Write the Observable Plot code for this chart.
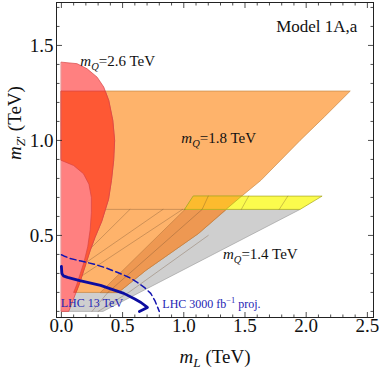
<!DOCTYPE html>
<html><head><meta charset="utf-8">
<script src="https://cdn.jsdelivr.net/npm/d3@7"></script>
<script src="https://cdn.jsdelivr.net/npm/@observablehq/plot@0.6"></script>
<style>body{margin:0;background:#fff}svg{display:block}</style>
</head><body><div id="chart"></div>
<script>
// ---- tick values ----
const xMajor = [0, 0.5, 1.0, 1.5, 2.0, 2.5];
const yMajor = [0.5, 1.0, 1.5];
const xMinor = d3.range(1, 25).map(i => i / 10).filter(v => !xMajor.some(m => Math.abs(m - v) < 1e-9));
const yMinor = d3.range(1, 18).map(i => i / 10).filter(v => !yMajor.some(m => Math.abs(m - v) < 1e-9));

// ---- region boundaries (m_L, m_Z') in TeV ----
// m_Q = 2.6 TeV region: right edge, from top (x=0) down to bottom
const redEdge = [[0,1.412],[0.128,1.404],[0.21,1.377],[0.292,1.333],[0.346,1.281],[0.387,1.21],[0.42,1.105],[0.435,1.0],[0.427,0.895],[0.409,0.79],[0.385,0.69],[0.33,0.575],[0.275,0.49],[0.235,0.42],[0.19,0.33],[0.15,0.25],[0.12,0.2],[0.06,0.1]];
const redBottomLeft = [[0,0.1]];
// m_Q = 1.8 TeV region
const orangeTop = [[0,1.26],[2.36,1.26]];
const orangeRightEdge = [[2.36,1.26],[2.15,1.125],[1.95,1.0],[1.63,0.79],[1.46,0.70],[1.34,0.632],[1.12,0.51],[0.69,0.316],[0.466,0.2]];
const orangeLeftEdge = [[0.10,0.2],[0.125,0.24],[0.155,0.30],[0.185,0.36],[0.215,0.44],[0.235,0.53],[0.245,0.62],[0.245,0.70],[0.225,0.77],[0.18,0.825],[0.1,0.868],[0,0.895]];
// m_Q = 1.4 TeV region
const grayRegion = [[0,0.1],[0.34,0.1],[1.95,0.637],[1.01,0.637],[0.319,0.2],[0.05,0.2]];
const overlapBand = [[0.319,0.2],[1.01,0.637],[1.345,0.637],[1.12,0.51],[0.69,0.316],[0.466,0.2]];
const yellowBand = [[1.01,0.637],[1.95,0.637],[2.13,0.707],[1.08,0.707]];
const yellowOverlap = [[1.01,0.637],[1.345,0.637],[1.473,0.707],[1.08,0.707]];
// mesh lines
const meshLines = [
  [[0.26,0.637],[1.01,0.637]],
  [[0.22,0.42],[0.56,0.637]],
  [[0.185,0.35],[0.83,0.637]],
  [[0.15,0.28],[0.99,0.637]],
  [[0.25,0.1],[0.38,0.2],[1.15,0.637],[1.20,0.707]],
  [[0.30,0.1],[0.55,0.2],[1.2,0.5]],
  [[1.47,0.637],[1.53,0.707]],
  [[1.78,0.637],[1.85,0.707]]
];
// LHC bounds
const lhc13 = [[0,0.337],[0.004,0.30],[0.016,0.287],[0.05,0.279],[0.15,0.262],[0.32,0.237],[0.42,0.215],[0.51,0.195],[0.6,0.165],[0.65,0.147],[0.703,0.121],[0.637,0.1]];
const lhc3000 = [[0,0.398],[0.02,0.392],[0.07,0.379],[0.16,0.365],[0.26,0.35],[0.36,0.33],[0.46,0.305],[0.55,0.28],[0.62,0.253],[0.68,0.225],[0.73,0.195],[0.765,0.155],[0.79,0.116],[0.80,0.1]];

// labels
const labels = [
  {x:0.155, y:1.417, text:"*m*_{*Q*}=2.6 TeV", size:15, color:"#111", anchor:"start"},
  {x:0.98, y:1.01, text:"*m*_{*Q*}=1.8 TeV", size:15, color:"#111", anchor:"start"},
  {x:1.32, y:0.40, text:"*m*_{*Q*}=1.4 TeV", size:15, color:"#111", anchor:"start"},
  {x:2.418, y:1.60, text:"Model 1A,a", size:17, color:"#111", anchor:"end"},
  {x:-0.005, y:0.142, text:"LHC 13 TeV", size:12, color:"#2424b4", anchor:"start"},
  {x:0.825, y:0.137, text:"LHC 3000 fb^{−1} proj.", size:12, color:"#2424b4", anchor:"start"}
];
const xTitle = "*m*_{*L*} (TeV)";
const yTitle = "*m*_{*Z*′} (TeV)";

// ---- build polygons ----
const redPoly = [...redEdge, ...redBottomLeft];
const orangePoly = [...orangeTop, ...orangeRightEdge.slice(1), ...orangeLeftEdge];
const redInOrange = [[0,1.26],[0.358,1.26], ...redEdge.filter(p => p[1] < 1.26 && p[1] >= 0.2), ...orangeLeftEdge];

const poly = (pts, fill, stroke, sw = 0.7) =>
  Plot.line(pts, {x: d => d[0], y: d => d[1], fill, stroke, strokeWidth: sw, curve: "linear-closed"});

const tick = (dir) => ({draw(ctx, size) {
  const l = Math.sqrt(size / Math.PI);
  ctx.moveTo(0, 0);
  if (dir === "up") ctx.lineTo(0, -l);
  if (dir === "down") ctx.lineTo(0, l);
  if (dir === "right") ctx.lineTo(l, 0);
  if (dir === "left") ctx.lineTo(-l, 0);
}});

const tickMarks = [];
for (const [vals, r] of [[xMajor, 5.5], [xMinor, 3]]) {
  tickMarks.push(Plot.dot(vals, {x: d => d, frameAnchor: "bottom", symbol: tick("up"), r, stroke: "#222", fill: "none", strokeWidth: 0.8}));
  tickMarks.push(Plot.dot(vals, {x: d => d, frameAnchor: "top", symbol: tick("down"), r, stroke: "#222", fill: "none", strokeWidth: 0.8}));
}
for (const [vals, r] of [[yMajor, 5.5], [yMinor, 3]]) {
  tickMarks.push(Plot.dot(vals, {y: d => d, frameAnchor: "left", symbol: tick("right"), r, stroke: "#222", fill: "none", strokeWidth: 0.8}));
  tickMarks.push(Plot.dot(vals, {y: d => d, frameAnchor: "right", symbol: tick("left"), r, stroke: "#222", fill: "none", strokeWidth: 0.8}));
}

const meshData = meshLines.flatMap((pts, i) => pts.map(p => ({x: p[0], y: p[1], id: i})));

const chart = Plot.plot({
  width: 380, height: 370,
  marginLeft: 56, marginRight: 7, marginTop: 2, marginBottom: 53,
  x: {domain: [-0.04, 2.55], axis: null},
  y: {domain: [0.068, 1.726], axis: null},
  style: {fontFamily: "'Liberation Serif', 'DejaVu Serif', serif", background: "white"},
  marks: [
    poly(grayRegion, "#cfcfcf", "#9a9a9a", 0.6),
    poly(orangePoly, "#feb36b", "#c98a46", 0.7),
    poly(overlapBand, "#ee9852", "#b9773c", 0.6),
    poly(yellowBand, "#fbfb4d", "#a8a820", 0.7),
    poly(yellowOverlap, "#fcbb2e", "#a8a820", 0.6),
    Plot.line(meshData, {x: "x", y: "y", z: "id", stroke: "#6b4a2a", strokeOpacity: 0.55, strokeWidth: 0.6}),
    poly(redPoly, "#ff8080", "#d84545", 0.7),
    poly(redInOrange, "#fe5834", "#d84545", 0.7),
    Plot.line(lhc13, {x: d => d[0], y: d => d[1], stroke: "#0c0ca0", strokeWidth: 2.8, curve: "linear"}),
    Plot.line(lhc3000, {x: d => d[0], y: d => d[1], stroke: "#1414b0", strokeWidth: 1.5, strokeDasharray: "6,3.5"}),
    Plot.frame({stroke: "#222", strokeWidth: 1}),
    ...tickMarks,
    Plot.text(xMajor, {x: d => d, frameAnchor: "bottom", dy: 8, lineAnchor: "middle", text: d => d.toFixed(1), fontSize: 19, fill: "#111"}),
    Plot.text(yMajor, {y: d => d, frameAnchor: "left", dx: -3, textAnchor: "end", lineAnchor: "middle", text: d => d.toFixed(1), fontSize: 19, fill: "#111"}),
    Plot.text([xTitle], {frameAnchor: "bottom", dy: 39, lineAnchor: "middle", text: d => d, fontSize: 19, fill: "#111"}),
    Plot.text([yTitle], {frameAnchor: "left", dx: -42, rotate: -90, lineAnchor: "middle", text: d => d, fontSize: 19, fill: "#111"}),
    ...labels.map(l => Plot.text([l], {x: "x", y: "y", text: "text", fontSize: l.size, fill: l.color, textAnchor: l.anchor, lineAnchor: "middle"}))
  ]
});
document.getElementById("chart").appendChild(chart);

// rich text: *italic*, _{sub}, ^{sup}
function richify(svg) {
  svg.querySelectorAll("text").forEach(t => {
    const s = t.textContent;
    if (!/[*]|_\{|\^\{/.test(s)) return;
    const runs = []; let italic = false, mode = 0, buf = "";
    const push = () => { if (buf) { runs.push({text: buf, italic, mode}); buf = ""; } };
    for (let i = 0; i < s.length; i++) {
      const c = s[i];
      if (c === "*") { push(); italic = !italic; continue; }
      if ((c === "_" || c === "^") && s[i + 1] === "{") { push(); mode = c === "_" ? 1 : 2; i++; continue; }
      if (c === "}" && mode) { push(); mode = 0; continue; }
      buf += c;
    }
    push();
    while (t.firstChild) t.removeChild(t.firstChild);
    let cur = 0;
    runs.forEach(r => {
      const ts = document.createElementNS("http://www.w3.org/2000/svg", "tspan");
      ts.textContent = r.text;
      if (r.italic) ts.setAttribute("font-style", "italic");
      const rel = r.mode ? 0.7 : 1;
      if (r.mode) ts.setAttribute("font-size", "70%");
      const target = r.mode === 1 ? 0.25 : r.mode === 2 ? -0.4 : 0;
      const delta = target - cur;
      if (delta) ts.setAttribute("dy", (delta / rel).toFixed(3) + "em");
      cur = target;
      t.appendChild(ts);
    });
  });
}
richify(chart);
</script></body></html>
